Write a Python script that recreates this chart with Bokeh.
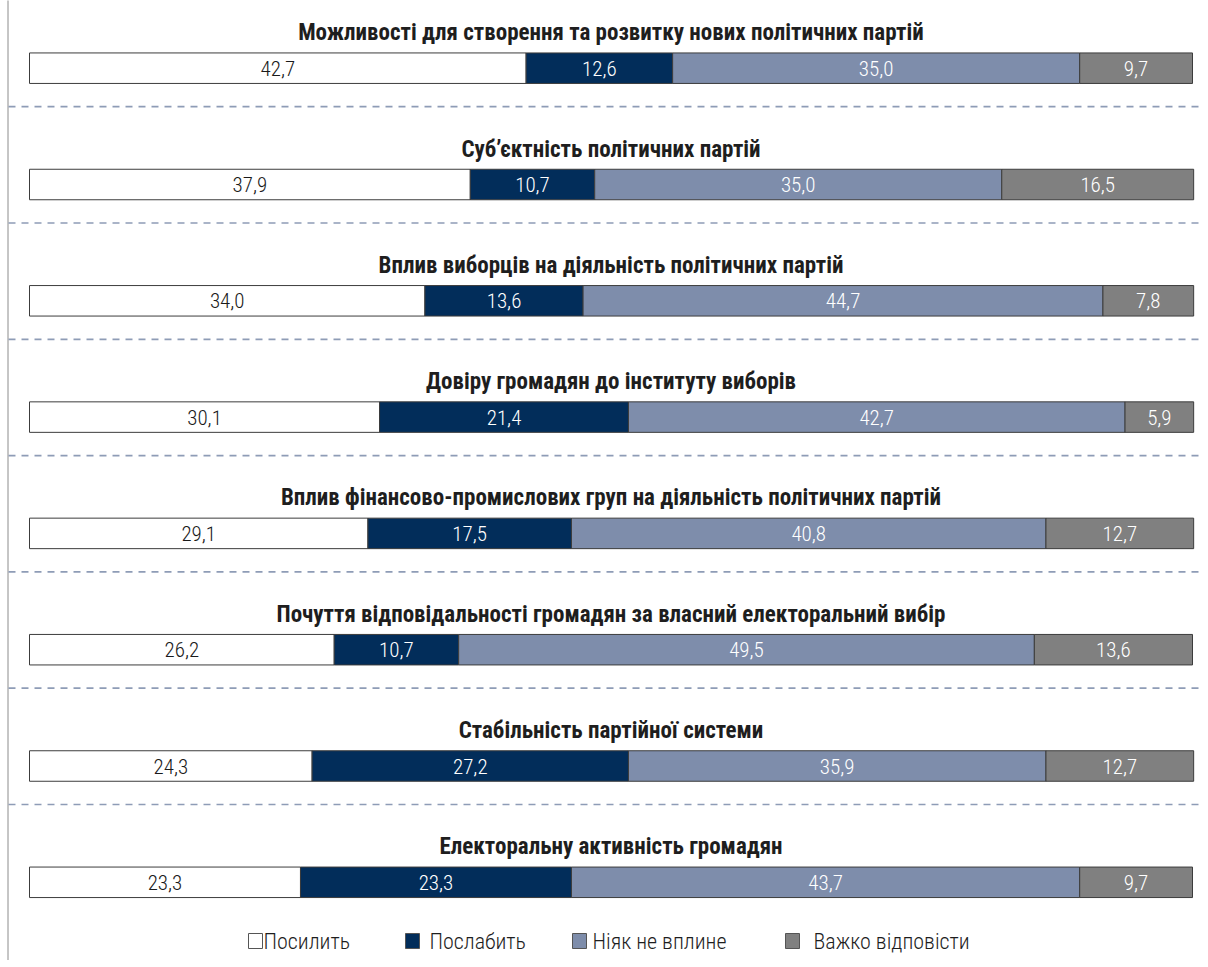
from bokeh.plotting import figure
from bokeh.models import Range1d, ColumnDataSource
from bokeh.embed import file_html
from bokeh.resources import INLINE
from bokeh.core.properties import value

# ---------------- data ----------------
categories = [
    "Можливості для створення та розвитку нових політичних партій",
    "Суб’єктність політичних партій",
    "Вплив виборців на діяльність політичних партій",
    "Довіру громадян до інституту виборів",
    "Вплив фінансово-промислових груп на діяльність політичних партій",
    "Почуття відповідальності громадян за власний електоральний вибір",
    "Стабільність партійної системи",
    "Електоральну активність громадян",
]
strengthen = [42.7, 37.9, 34.0, 30.1, 29.1, 26.2, 24.3, 23.3]
weaken = [12.6, 10.7, 13.6, 21.4, 17.5, 10.7, 27.2, 23.3]
no_effect = [35.0, 35.0, 44.7, 42.7, 40.8, 49.5, 35.9, 43.7]
hard_to_say = [9.7, 16.5, 7.8, 5.9, 12.7, 13.6, 12.7, 9.7]
series_names = ["Посилить", "Послабить", "Ніяк не вплине", "Важко відповісти"]
series_colors = ["#ffffff", "#022d5a", "#7e8dab", "#808080"]
label_colors = ["#1a1a1a", "#ffffff", "#ffffff", "#ffffff"]

# ---------------- layout ----------------
W, H = 1200, 960
OFF = 0                     # figure origin on the photographed page
BAR_L, BAR_R = 29, 1192     # page px of 0% and 100%
ROW0, ROW_STEP = 67.7, 116.3
BAR_H = 30.5
PPU = (BAR_R - BAR_L) / 100.0
X0 = -(BAR_L - OFF) / PPU
X1 = X0 + W / PPU


def px2x(px):
    return (px - BAR_L) / PPU


LIGHT_FONT = "'Roboto Condensed Light', 'Roboto Condensed', 'DejaVu Sans Condensed', Roboto, sans-serif"
COND_FONT = "'Roboto Condensed', 'DejaVu Sans Condensed', Roboto, sans-serif"

p = figure(width=W, height=H, output_backend="svg", toolbar_location=None,
           x_range=Range1d(X0, X1), y_range=Range1d(OFF + H, OFF),
           min_border=0, min_border_left=0, min_border_right=0,
           min_border_top=0, min_border_bottom=0)
p.xaxis.visible = False
p.yaxis.visible = False
p.xgrid.visible = False
p.ygrid.visible = False
p.outline_line_color = None
p.background_fill_color = "#ffffff"
p.border_fill_color = "#ffffff"

n = len(categories)
centers = [ROW0 + ROW_STEP * i for i in range(n)]

# left vertical rule
p.segment(x0=[px2x(7.5)], x1=[px2x(7.5)], y0=[OFF - 5], y1=[OFF + H + 5],
          line_color="#8c8c8c", line_width=1)

# dashed separators
sep_y = [c + 38.5 for c in centers[:-1]]
p.segment(x0=[px2x(8)] * len(sep_y), x1=[px2x(1201)] * len(sep_y),
          y0=sep_y, y1=sep_y, line_color="#8e9cb6", line_width=1.7,
          line_dash="7 6")

# stacked bars
series = [strengthen, weaken, no_effect, hard_to_say]
lefts = [0.0] * n
for vals, col, lcol in zip(series, series_colors, label_colors):
    rights = [l + v for l, v in zip(lefts, vals)]
    src = ColumnDataSource(dict(
        y=centers, left=lefts, right=rights,
        mid=[(l + r) / 2 for l, r in zip(lefts, rights)],
        lab=[f"{v:.1f}".replace(".", ",") for v in vals]))
    p.hbar(y="y", left="left", right="right", height=BAR_H, source=src,
           fill_color=col, line_color="#3c3c3c", line_width=1)
    p.text(x="mid", y="y", text="lab", source=src, text_align="center",
           text_baseline="middle", text_color=lcol,
           text_font=value(LIGHT_FONT), text_font_size="21px")
    lefts = rights

# category titles
tsrc = ColumnDataSource(dict(x=[50.0] * n, y=[c - 35.5 for c in centers], t=categories))
p.text(x="x", y="y", text="t", source=tsrc, text_align="center",
       text_baseline="alphabetic", text_color="#1e1e1e",
       text_font=value(COND_FONT), text_font_style="bold", text_font_size="23px")

# legend
leg_sq_px = [255, 412, 579, 792]
leg_tx_px = [263, 429, 592, 813]
LEG_Y = 940.5
p.rect(x=[px2x(v) for v in leg_sq_px], y=[LEG_Y] * 4, width=14, height=15,
       width_units="screen", height_units="screen",
       fill_color=series_colors, line_color="#555555", line_width=1)
p.text(x=[px2x(v) for v in leg_tx_px], y=[LEG_Y] * 4, text=series_names,
       text_align="left", text_baseline="middle", text_color="#1e1e1e",
       text_font=value(LIGHT_FONT), text_font_size="22px")

open("out.html", "w").write(file_html(p, INLINE))
